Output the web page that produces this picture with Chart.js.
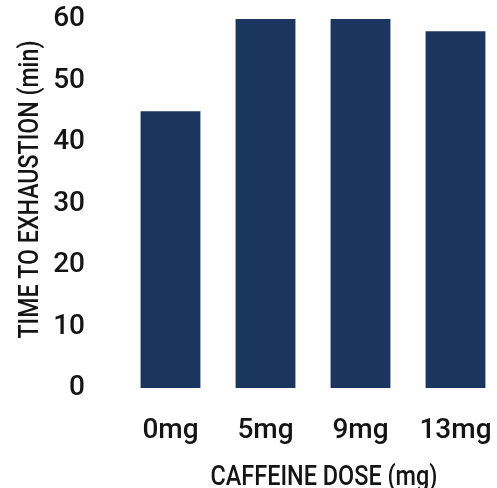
<!DOCTYPE html>
<html>
<head>
<meta charset="utf-8">
<script src="https://cdn.jsdelivr.net/npm/chart.js@4/dist/chart.umd.min.js"></script>
<style>
  html, body { margin: 0; padding: 0; background: #fff; overflow: hidden; width: 497px; height: 488px; }
  #wrap { position: relative; width: 503px; height: 488px; }
</style>
</head>
<body>
<div id="wrap"><canvas id="c"></canvas></div>
<script>
const categories = ["0mg", "5mg", "9mg", "13mg"];
const timeToExhaustion = [45, 60, 60, 58];
const yTicks = [0, 10, 20, 30, 40, 50, 60];
const xTitle = "CAFFEINE DOSE (mg)";
const yTitle = "TIME TO EXHAUSTION (min)";

const textColor = '#141414';
const tickFont = { family: 'Roboto', size: 28, weight: '500' };

// Axis titles drawn as canvas text (condensed look approximated by horizontal scaling)
const axisTitles = {
  id: 'axisTitles',
  afterDraw(chart) {
    const { ctx, chartArea: a } = chart;
    ctx.save();
    ctx.fillStyle = textColor;
    ctx.font = '500 28px Roboto';
    ctx.textAlign = 'center';
    ctx.textBaseline = 'alphabetic';

    ctx.save();
    ctx.translate((a.left + a.right) / 2 + 11, 485);
    const xw = ctx.measureText(xTitle).width;
    ctx.scale(Math.min(1, 227 / xw), 1);
    ctx.fillText(xTitle, 0, 0);
    ctx.restore();

    ctx.save();
    ctx.translate(38, (a.top + a.bottom) / 2 - 14);
    ctx.rotate(-Math.PI / 2);
    const yw = ctx.measureText(yTitle).width;
    ctx.scale(Math.min(1, 298 / yw), 1);
    ctx.fillText(yTitle, 0, 0);
    ctx.restore();

    ctx.restore();
  }
};

new Chart(document.getElementById('c'), {
  type: 'bar',
  data: {
    labels: categories,
    datasets: [{
      data: timeToExhaustion,
      backgroundColor: '#1b365e',
      borderWidth: 0,
      barPercentage: 0.63,
      categoryPercentage: 1.0
    }]
  },
  plugins: [axisTitles],
  options: {
    responsive: true,
    maintainAspectRatio: false,
    animation: false,
    layout: { padding: 0 },
    plugins: { legend: { display: false }, tooltip: { enabled: false } },
    scales: {
      x: {
        grid: { display: false },
        border: { display: false },
        ticks: { color: textColor, font: tickFont, padding: 18 },
        title: { display: false, text: xTitle },
        afterFit: (axis) => { axis.height = 100; axis.paddingLeft = 0; axis.paddingRight = 0; }
      },
      y: {
        min: 0, max: 60,
        afterBuildTicks: (axis) => { axis.ticks = yTicks.map(v => ({ value: v })); },
        afterFit: (axis) => { axis.width = 123; axis.paddingTop = 19; axis.paddingBottom = 0; },
        grid: { display: false },
        border: { display: false },
        ticks: { color: textColor, font: tickFont, padding: 30 },
        title: { display: false, text: yTitle }
      }
    }
  }
});
</script>
</body>
</html>
